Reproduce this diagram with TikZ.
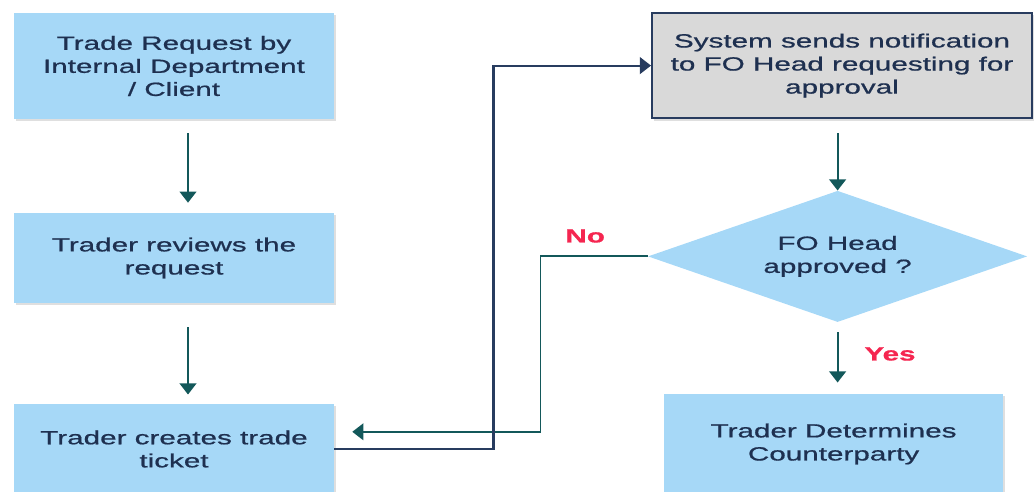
\documentclass[tikz,border=0pt]{standalone}
\usepackage{fontspec}
\setmainfont[FakeStretch=1.55, FakeBold=0.8]{Liberation Sans}
\usepackage{tikz}
\usetikzlibrary{shapes.geometric,arrows.meta,shadows}
\definecolor{boxblue}{RGB}{166,216,247}
\definecolor{boxgray}{RGB}{217,217,217}
\definecolor{txtnavy}{RGB}{30,48,80}
\definecolor{arrteal}{RGB}{19,88,90}
\definecolor{linenavy}{RGB}{40,60,95}
\definecolor{lblred}{RGB}{245,38,80}

\begin{document}
\begin{tikzpicture}[font=\fontsize{13.6pt}{16.4pt}\selectfont, >={Triangle[width=0.42cm,length=0.28cm]},
    bnode/.style={fill=boxblue, text=txtnavy, align=center, minimum width=8cm, drop shadow={opacity=0.25,shadow xshift=0.05cm,shadow yshift=-0.06cm}},
    gnode/.style={fill=boxgray, draw=linenavy, line width=1.4pt, text=txtnavy, align=center, minimum width=9.5cm, minimum height=2.63cm, drop shadow={opacity=0.25,shadow xshift=0.05cm,shadow yshift=-0.06cm}},
    dnode/.style={diamond, aspect=2.9, inner sep=0pt, fill=boxblue, text=txtnavy, align=center, minimum width=9.48cm, minimum height=3.28cm},
    lbl/.style={text=lblred, font=\bfseries\fontsize{13.6pt}{16.4pt}\selectfont}]
    \useasboundingbox (0,0) rectangle (25.85,-12.3);

    \node[bnode, minimum height=2.65cm] (1) at (4.35,-1.65) {Trade Request by\\Internal Department\\/ Client};
    \node[bnode, minimum height=2.25cm] (2) at (4.35,-6.45) {Trader reviews the\\request};
    \node[bnode, minimum height=2.25cm] (3) at (4.35,-11.225) {Trader creates trade\\ticket};
    \node[gnode] (s) at (21.05,-1.64) {System sends notification\\to FO Head requesting for\\approval};
    \node[dnode] (d) at (20.94,-6.41) {FO Head\\approved ?};
    \node[bnode, minimum width=8.48cm, minimum height=2.5cm] (c) at (20.84,-11.1) {Trader Determines\\Counterparty};

    \node[lbl] (no) at (14.63,-5.9) {No};
    \node[lbl] (yes) at (22.25,-8.85) {Yes};

   \begin{scope}[arrteal, line width=1.4pt]
    \draw[->, shorten <=0.35cm, shorten >=0.25cm] ([xshift=0.35cm]1.south) -- ([xshift=0.35cm]2.north);
    \draw[->, shorten <=0.6cm, shorten >=0.23cm] ([xshift=0.35cm]2.south) -- ([xshift=0.35cm]3.north);
    \draw[->, shorten <=0.35cm] (s.south -| d.north) -- (d.north);
    \draw[->, shorten <=0.25cm, shorten >=0.28cm] (d.south) -- (d.south |- c.north);
    \draw[->, line width=1.3pt, shorten >=0.45cm] (d.west) -- ++(-2.68,0) |- ([yshift=0.43cm]3.east);
   \end{scope}
    \draw[->, linenavy, line width=1.5pt] (3.east) -- ++(3.98,0) |- (s.west);
\end{tikzpicture}
\end{document}
